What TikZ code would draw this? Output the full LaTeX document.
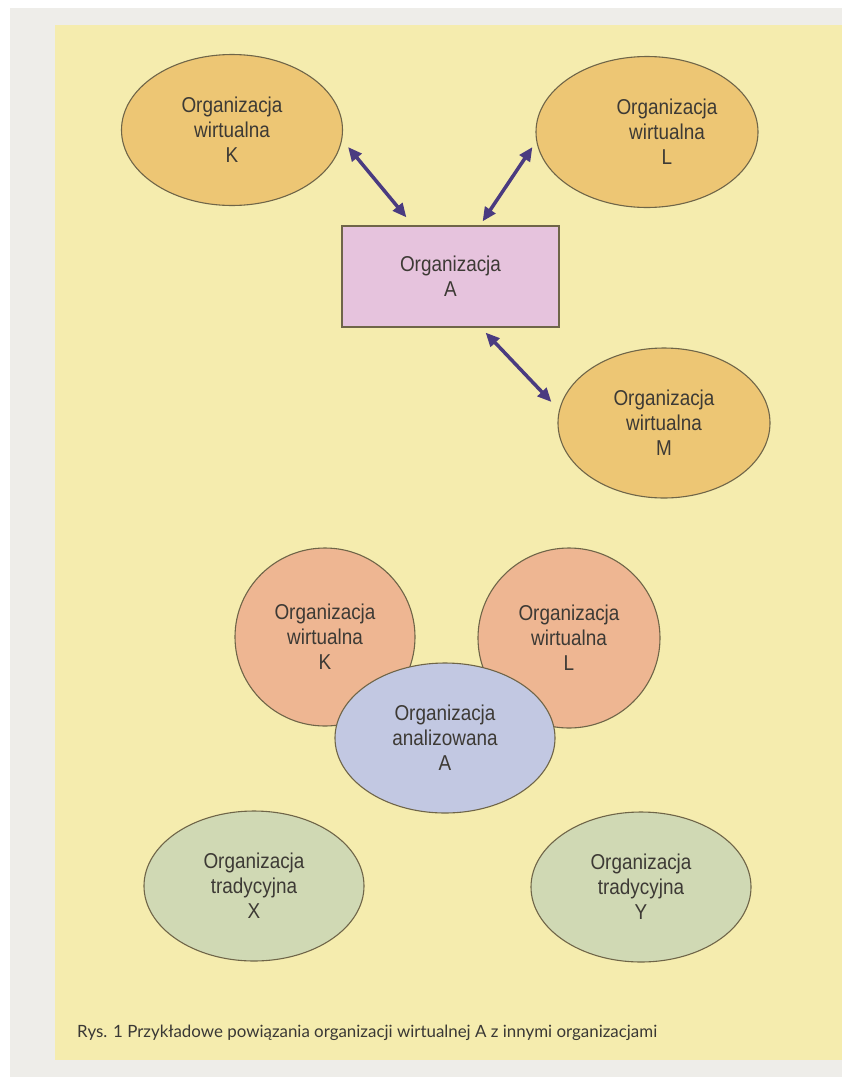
\documentclass[tikz,border=0pt]{standalone}
\usepackage{fontspec}
\setmainfont{Liberation Sans}[FakeStretch=0.88]
\newfontfamily\capfont{Lato}
\usetikzlibrary{arrows.meta,shapes.geometric,calc}
\definecolor{pagegrey}{HTML}{EEEDE9}
\definecolor{panel}{HTML}{F5ECAE}
\definecolor{orng}{HTML}{EDC674}
\definecolor{pinkbox}{HTML}{E6C3DD}
\definecolor{salmon}{HTML}{EEB692}
\definecolor{bluish}{HTML}{C2C8E2}
\definecolor{greenish}{HTML}{D0D9B4}
\definecolor{outl}{HTML}{6F6548}
\definecolor{arrowc}{HTML}{4A3B80}
\definecolor{txt}{HTML}{3D3A35}
\definecolor{captxt}{HTML}{3A3835}
\begin{document}
\begin{tikzpicture}[x=1pt,y=-1pt,
  nodetext/.style={align=center, text=txt, font=\fontsize{21.5}{25}\selectfont},
  blob/.style={ellipse, draw=outl, line width=1.1pt, inner sep=0pt, nodetext},
  boxnode/.style={rectangle, draw=outl, line width=1.1pt, inner sep=0pt, nodetext},
  arr/.style={arrowc, line width=3.5pt, {Triangle[length=14pt,width=12pt]}-{Triangle[length=14pt,width=12pt]}}
]
\useasboundingbox (0,0) rectangle (842,1077);
\fill[white] (0,0) rectangle (842,1077);
\fill[pagegrey] (10,8) rectangle (842,1077);
\fill[panel] (55,25) rectangle (842,1060);

% upper part
\node[blob, fill=orng, minimum width=221pt, minimum height=151pt] (K) at (232,130) {Organizacja\\wirtualna\\K};
\node[blob, fill=orng, minimum width=222pt, minimum height=151pt,
      label={[nodetext, xshift=20pt]center:Organizacja\\wirtualna\\L}] (L) at (647,132) {};
\node[boxnode, fill=pinkbox, minimum width=217pt, minimum height=101pt] (A) at (450.5,276.5) {Organizacja\\A};
\node[blob, fill=orng, minimum width=212pt, minimum height=150pt] (M) at (664,423) {Organizacja\\wirtualna\\M};

\draw[arr] ([shift={(5,17)}]K.east) -- ([shift={(65,-8)}]A.north west);
\draw[arr] ([shift={(-3,15)}]L.west) -- ([shift={(-77,-4)}]A.north east);
\draw[arr] ([shift={(-74,5)}]A.south east) -- ([shift={(-6,-21)}]M.west);

% lower part
\node[blob, fill=salmon, minimum width=180pt, minimum height=178pt] (K2) at (325,637) {Organizacja\\wirtualna\\K};
\node[blob, fill=salmon, minimum width=182pt, minimum height=180pt] (L2) at (569,638) {Organizacja\\wirtualna\\L};
\node[blob, fill=bluish, minimum width=220pt, minimum height=150pt] (A2) at (445,738) {Organizacja\\analizowana\\A};

\node[blob, fill=greenish, minimum width=220pt, minimum height=150pt] (X) at (254,886) {Organizacja\\tradycyjna\\X};
\node[blob, fill=greenish, minimum width=220pt, minimum height=150pt] (Y) at (641,887) {Organizacja\\tradycyjna\\Y};

\node[anchor=base west, inner sep=0pt, text=captxt, font=\capfont\fontsize{16.9}{20}\selectfont] (cap) at (77,1037)
  {Rys. 1 Przykładowe powiązania organizacji wirtualnej A z innymi organizacjami};
\end{tikzpicture}
\end{document}
